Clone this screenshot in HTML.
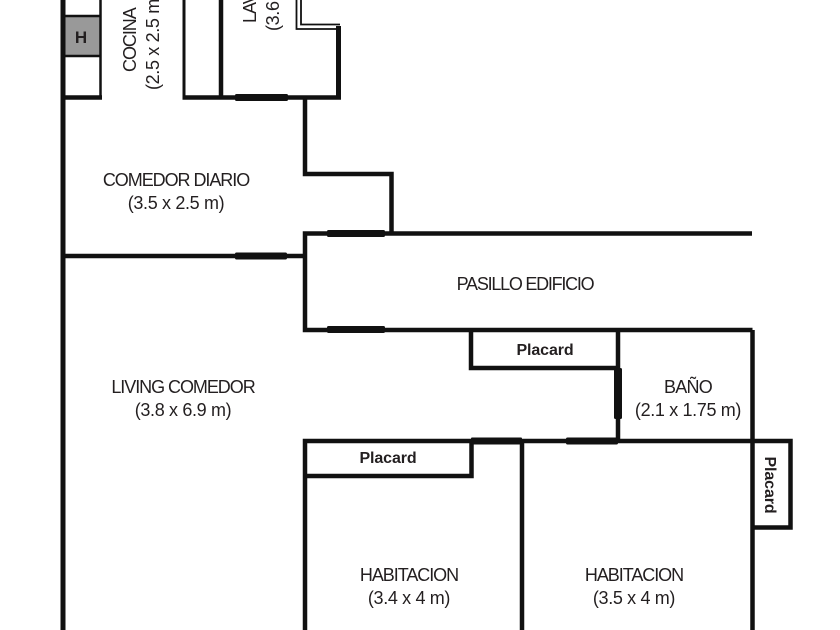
<!DOCTYPE html>
<html><head><meta charset="utf-8"><style>
html,body{margin:0;padding:0;background:#fff}
svg{display:block}
text{font-family:"Liberation Sans",sans-serif;fill:#231f20;font-size:18px;text-anchor:middle;letter-spacing:-1.05px}
.p{letter-spacing:-.35px}
.b{font-weight:bold;font-size:16px;letter-spacing:-.1px}
.v{font-size:18px;text-anchor:start}
</style></head><body>
<svg width="840" height="630" viewBox="0 0 840 630" xmlns="http://www.w3.org/2000/svg">
<rect width="840" height="630" fill="#fff"/>
<rect x="65" y="17" width="36" height="38" fill="#999"/>
<g fill="none" stroke="#111" stroke-linecap="butt">
<path d="M63 0V630" stroke-width="5"/>
<path d="M100.500 0V98" stroke-width="2.500"/>
<path d="M63 16H101M63 56H101" stroke-width="2.500"/>
<path d="M63 97.500H102" stroke-width="4.500"/>
<path d="M184 0V97.500" stroke-width="3"/>
<path d="M221 0V97.500" stroke-width="4.500"/>
<path d="M182.500 97.500H341" stroke-width="4.500"/>
<path d="M338.500 26V99.500" stroke-width="5"/>
<path d="M296.500 0V29H337M301 0V24.500H340" stroke-width="1.800"/>
<path d="M305 97.500V174H391.500V234" stroke-width="4.500"/>
<path d="M63 256H305" stroke-width="4.500"/>
<path d="M752 233.500H305V330H752.500" stroke-width="4.500"/>
<path d="M471 330V368H618" stroke-width="4.500"/>
<path d="M618 330V440" stroke-width="4.500"/>
<path d="M752.500 330V630" stroke-width="4.500"/>
<path d="M305 630V441H790.500V527.500H752" stroke-width="4.500"/>
<path d="M305 476H471.500V441" stroke-width="4.500"/>
<path d="M522 441V630" stroke-width="4.500"/>
</g>
<g fill="#111">
<rect x="235" y="94" width="53" height="7" rx="1.500"/>
<rect x="235" y="252.500" width="52" height="7" rx="1.500"/>
<rect x="327" y="230" width="58" height="7" rx="1.500"/>
<rect x="327" y="326" width="58" height="7" rx="1.500"/>
<rect x="614" y="368" width="8" height="51" rx="1.500"/>
<rect x="471" y="437.500" width="51" height="7" rx="1"/>
<rect x="566" y="437.500" width="52" height="7" rx="1.500"/>
</g>
<text x="81" y="43" class="b" style="font-size:17px">H</text>
<text transform="translate(136,72) rotate(-90)" class="v">COCINA</text>
<text transform="translate(159,90) rotate(-90)" class="v p">(2.5 x 2.5 m)</text>
<text transform="translate(256,23) rotate(-90)" class="v">LAV</text>
<text transform="translate(279,31) rotate(-90)" class="v p">(3.6</text>
<text x="176" y="186">COMEDOR DIARIO</text>
<text x="176" y="209" class="p">(3.5 x 2.5 m)</text>
<text x="525" y="290" style="letter-spacing:-1.25px">PASILLO EDIFICIO</text>
<text x="183" y="393">LIVING COMEDOR</text>
<text x="183" y="416" class="p">(3.8 x 6.9 m)</text>
<text x="688" y="393" style="letter-spacing:-.75px">BAÑO</text>
<text x="688" y="416" class="p">(2.1 x 1.75 m)</text>
<text x="409" y="581">HABITACION</text>
<text x="409" y="604" class="p">(3.4 x 4 m)</text>
<text x="634" y="581">HABITACION</text>
<text x="634" y="604" class="p">(3.5 x 4 m)</text>
<text x="545" y="355" class="b">Placard</text>
<text x="388" y="463" class="b">Placard</text>
<text transform="translate(765,485) rotate(90)" class="b">Placard</text>
</svg>
</body></html>
